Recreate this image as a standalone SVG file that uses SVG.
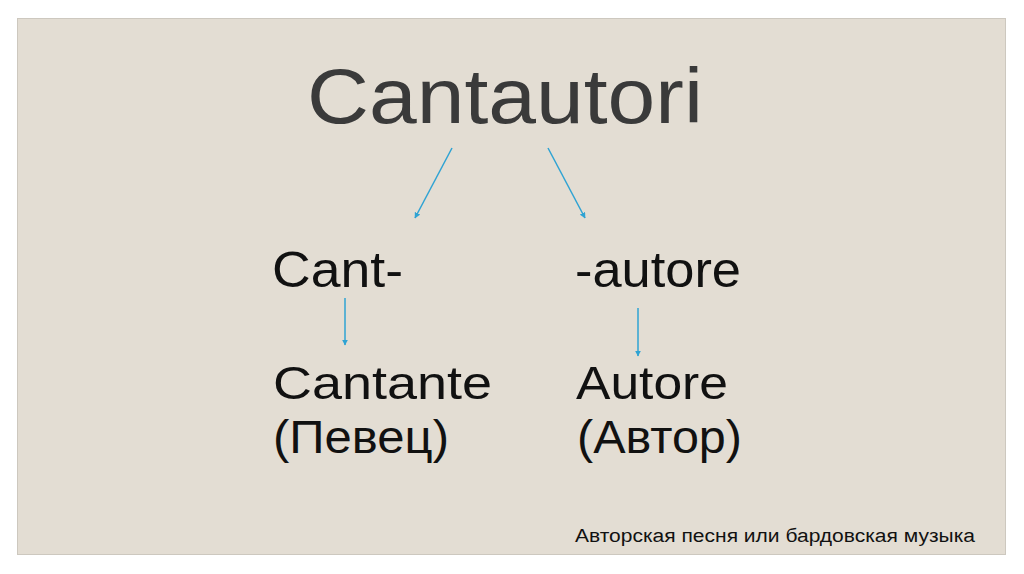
<svg xmlns="http://www.w3.org/2000/svg" width="1024" height="574" viewBox="0 0 1024 574">
  <defs>
    <marker id="ah" viewBox="0 0 10 10" refX="9" refY="5" markerWidth="4" markerHeight="4" orient="auto" markerUnits="strokeWidth">
      <path d="M0,0 L10,5 L0,10 z" fill="#2fa3d3"/>
    </marker>
  </defs>
  <style>
    .t { font-family: "Liberation Sans", Arial, sans-serif; fill: #111; }
    .title { font-family: "Liberation Sans", Arial, sans-serif; fill: #3a3a3a; font-size: 77px; }
    .c { stroke: #2fa3d3; stroke-width: 1.5; fill: none; marker-end: url(#ah); }
  </style>
  <rect x="0" y="0" width="1024" height="574" fill="#ffffff"/>
  <rect x="17.5" y="18.5" width="988" height="536" fill="#e3ddd3" stroke="#cdc8bf" stroke-width="1"/>
  <g id="title"><text class="title" x="307" y="123" textLength="396" lengthAdjust="spacingAndGlyphs">Cantautori</text></g>
  <g id="cant"><text class="t" x="272" y="287" font-size="50" textLength="131" lengthAdjust="spacingAndGlyphs">Cant-</text></g>
  <g id="autore"><text class="t" x="575" y="287" font-size="50" textLength="166" lengthAdjust="spacingAndGlyphs">-autore</text></g>
  <g id="cantante">
    <text class="t" x="273" y="399" font-size="47" textLength="219" lengthAdjust="spacingAndGlyphs">Cantante</text>
    <text class="t" x="273" y="453" font-size="47" textLength="176" lengthAdjust="spacingAndGlyphs">(Певец)</text>
  </g>
  <g id="autore2">
    <text class="t" x="576" y="399" font-size="47" textLength="152" lengthAdjust="spacingAndGlyphs">Autore</text>
    <text class="t" x="577" y="453" font-size="47" textLength="165" lengthAdjust="spacingAndGlyphs">(Автор)</text>
  </g>
  <g id="footer"><text class="t" x="575" y="542" font-size="18" textLength="400" lengthAdjust="spacingAndGlyphs">Авторская песня или бардовская музыка</text></g>
  <g id="connectors">
    <line class="c" x1="452" y1="148" x2="415" y2="218"/>
    <line class="c" x1="548" y1="148" x2="585" y2="218"/>
    <line class="c" x1="345" y1="298" x2="345" y2="345"/>
    <line class="c" x1="638" y1="308" x2="638" y2="356"/>
  </g>
</svg>
